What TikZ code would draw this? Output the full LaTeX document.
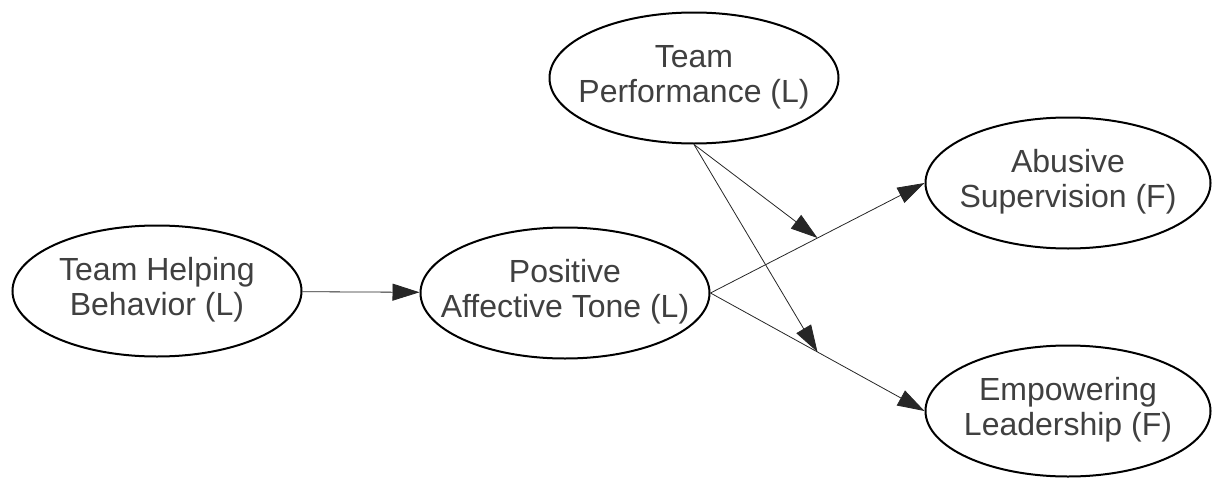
\documentclass[tikz,border=0pt]{standalone}
\usepackage{fontspec}
\setmainfont{Liberation Sans}
\usetikzlibrary{shapes.geometric,arrows.meta,calc}
\newcommand{\twolines}[2]{\makebox[0pt]{\begin{tabular}{@{}c@{}}#1\\#2\end{tabular}}}
\begin{document}
\begin{tikzpicture}[x=1pt,y=-1pt,
  latent/.style={ellipse,draw=black,line width=2pt,fill=white,inner sep=0pt,
    minimum width=289pt,minimum height=131pt,text=black!75,
    font=\fontsize{32}{35}\selectfont},
  conn/.style={draw=black!85,line width=0.8pt,-{Triangle[length=27pt,width=17pt]}}]
\useasboundingbox (0,0) rectangle (1213,479);
\node[latent] (thb) at (157,291) {\twolines{Team Helping}{Behavior (L)}};
\node[latent] (pat) at (565,293) {\twolines{Positive}{Affective Tone (L)}};
\node[latent] (tp) at (694,78) {\twolines{Team}{Performance (L)}};
\node[latent,minimum width=285pt] (as) at (1068,183) {\twolines{Abusive}{Supervision (F)}};
\node[latent,minimum width=285pt] (el) at (1068,411) {\twolines{Empowering}{Leadership (F)}};
\draw[conn] (thb) -- (pat);
\draw[conn] (pat.east) -- coordinate[pos=0.5] (m1) (as.west);
\draw[conn] (pat.east) -- coordinate[pos=0.5] (m2) (el.west);
\draw[conn] (tp.south) -- (m1);
\draw[conn] (tp.south) -- (m2);
\end{tikzpicture}
\end{document}
